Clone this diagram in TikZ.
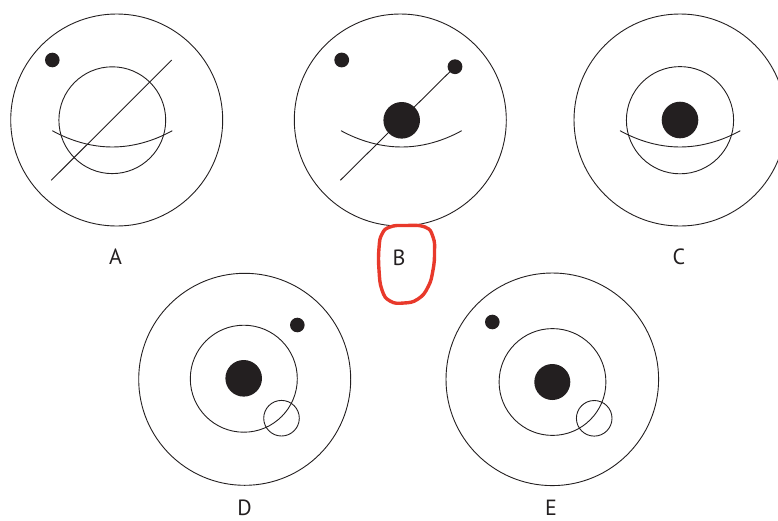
\documentclass[tikz,border=0pt]{standalone}
\usepackage{fontspec}
\setmainfont{PT Sans}
\usepackage{xcolor}
\usetikzlibrary{positioning}

\definecolor{ink}{HTML}{231F20}
\definecolor{penred}{HTML}{E8392B}

\begin{document}
\begin{tikzpicture}[x=1pt, y=-1pt,
    ring/.style={draw=ink, line width=0.9pt},
    blob/.style={fill=ink},
    smile/.style={draw=ink, line width=0.9pt},
    lbl/.style={font=\fontsize{22}{26}\selectfont, anchor=base, text=ink}]

    \clip (0,0) rectangle (778,520);

    % --- Figura A ---
    \coordinate (A) at (116.7,120);
    \draw[ring] (A) circle (106pt);
    \draw[ring] (112.3,120.2) circle (53.4pt);
    \fill[blob] (52.3,60) circle (7.3pt);
    \coordinate (A1) at (51.3,180.3);
    \coordinate (A2) at (171.7,60);
    \draw[smile] (A1) -- (A2);
    \draw[smile] (52.3,130.7) parabola bend (112.3,147) (172.3,130.7);
    \node[lbl] (labA) at (115.5,264) {A};

    % --- Figura B ---
    \coordinate (B) at (400.3,120);
    \draw[ring] (B) circle (106pt);
    \fill[blob] (401.7,120.3) circle (18.3pt);
    \fill[blob] (341.7,60) circle (7.4pt);
    \coordinate (B2) at (455,66.7);
    \coordinate (B1) at (340.3,180.3);
    \fill[blob] (B2) circle (7.4pt);
    \draw[smile] (B1) -- (B2);
    \draw[smile] (341,130.7) parabola bend (401.7,147) (461.7,130.7);
    \node[lbl] (labB) at (399,265) {B};

    % marca a mano alrededor de B
    \draw[penred, line width=3.4pt, line cap=round, line join=round]
        plot[smooth cycle, tension=0.8] coordinates {
        (405,225.5) (425,227) (433,237) (434.5,252) (433,270) (428,287)
        (418,299) (404,303) (390,301) (382,290) (379,270) (379,248)
        (382,234) (390,227)};

    % --- Figura C ---
    \coordinate (C) at (680,120);
    \draw[ring] (C) circle (106pt);
    \draw[ring] (680,120.2) circle (53.6pt);
    \fill[blob] (680,120) circle (18.3pt);
    \draw[smile] (620,130.7) parabola bend (680,147) (740.3,130.7);
    \node[lbl] (labC) at (679,264) {C};

    % --- Figura D ---
    \coordinate (D) at (244.7,379.3);
    \draw[ring] (D) circle (106pt);
    \draw[ring] (243.8,378.7) circle (53.5pt);
    \fill[blob] (243.7,378.3) circle (18.3pt);
    \fill[blob] (297.3,325) circle (7.3pt);
    \draw[ring] (281.5,418.2) circle (17.8pt);
    \node[lbl] (labD) at (244.5,515) {D};

    % --- Figura E ---
    \coordinate (E) at (552.3,379.3);
    \draw[ring] (E) circle (106.3pt);
    \draw[ring] (552.5,382) circle (53.4pt);
    \fill[blob] (552.3,382) circle (18pt);
    \fill[blob] (492.3,322) circle (7.3pt);
    \draw[ring] (594.2,418.3) circle (17.8pt);
    \node[lbl] (labE) at (551,515) {E};

\end{tikzpicture}
\end{document}
